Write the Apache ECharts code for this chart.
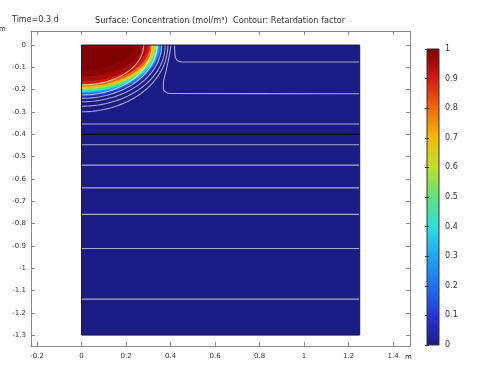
<!DOCTYPE html>
<html><head><meta charset="utf-8">
<script src="https://cdn.jsdelivr.net/npm/echarts@6/dist/echarts.min.js"></script>
<style>html,body{margin:0;padding:0;background:#fff}#c{width:481px;height:367px}</style>
</head><body><div id="c"></div>
<script>
// ---- data ----
const xTicks = [-0.2, 0, 0.2, 0.4, 0.6, 0.8, 1, 1.2, 1.4];
const yTicks = [0, -0.1, -0.2, -0.3, -0.4, -0.5, -0.6, -0.7, -0.8, -0.9, -1, -1.1, -1.2, -1.3];
const colorbarTicks = [0, 0.1, 0.2, 0.3, 0.4, 0.5, 0.6, 0.7, 0.8, 0.9, 1];
const domainWidth = 1.25;
const domainBottom = -1.3;
const layerBoundary = -0.4;
const backgroundConc = 0;
// concentration iso-levels of the source plume (value, half-width along top, depth along left edge)
const concLevels = [0.02, 0.1, 0.2, 0.3, 0.4, 0.5, 0.6, 0.7, 0.8, 0.9, 0.95, 0.98, 0.995];
const concRx     = [0.372, 0.364, 0.357, 0.351, 0.345, 0.339, 0.333, 0.327, 0.319, 0.308, 0.294, 0.27, 0.235];
const concRy     = [0.242, 0.232, 0.223, 0.216, 0.210, 0.204, 0.198, 0.192, 0.185, 0.175, 0.162, 0.142, 0.112];
// retardation-factor contours
const arcRx = [0.279, 0.317, 0.339, 0.360, 0.376, 0.388];
const arcRy = [0.179, 0.224, 0.239, 0.254, 0.274, 0.299];
const flatContourY = [-0.354, -0.447, -0.538, -0.640, -0.759, -0.912, -1.139];
const bendContourA = [[0.418, 0], [0.419, -0.03], [0.422, -0.055], [0.432, -0.07], [0.455, -0.076], [1.25, -0.076]];
const bendContourB = [[0.402, 0], [0.392, -0.06], [0.379, -0.12], [0.368, -0.17], [0.368, -0.198], [0.38, -0.212], [0.40, -0.217], [1.25, -0.218]];
const rainbow = ['#1b1b85', '#2636d6', '#2070ee', '#1fa6f2', '#2fdede', '#62e07e', '#bfe02e', '#f0bc06', '#f0680c', '#d41a12', '#7a0000'];

const xMin = -0.227, xMax = 1.476, yMin = -1.349, yMax = 0.063;
const lineCol = 'rgba(255,255,255,0.62)';
const axisCol = '#8a8a8a';
const cbar = {x: 427, y: 49, w: 12, h: 296};

function quarterEllipse(api, rx, ry) {
  const pts = [];
  const n = 48;
  for (let k = 0; k <= n; k++) {
    const t = k / n * Math.PI / 2;
    pts.push(api.coord([rx * Math.cos(t), -ry * Math.sin(t)]));
  }
  return pts;
}

const chart = echarts.init(document.getElementById('c'), null, {renderer: 'canvas'});
const frameAxisCommon = {
  type: 'value', gridIndex: 0,
  axisLine: {show: true, onZero: false, lineStyle: {color: axisCol, width: 1}},
  splitLine: {show: false}
};
chart.setOption({
  animation: false,
  textStyle: {fontFamily: 'DejaVu Sans'},
  grid: [
    {left: 31, top: 31, width: 379, height: 315},
    {left: cbar.x, top: cbar.y, width: cbar.w, height: cbar.h}
  ],
  xAxis: [
    Object.assign({}, frameAxisCommon, {position: 'bottom', min: xMin, max: xMax,
      axisTick: {show: true, inside: true, length: 4, customValues: xTicks, lineStyle: {color: axisCol}},
      axisLabel: {show: true, customValues: xTicks, formatter: v => String(v), fontSize: 7, color: '#333', margin: 7}}),
    Object.assign({}, frameAxisCommon, {position: 'top', min: xMin, max: xMax,
      axisTick: {show: true, inside: true, length: 4, customValues: xTicks, lineStyle: {color: axisCol}},
      axisLabel: {show: false}}),
    {type: 'value', gridIndex: 1, show: false, min: 0, max: 1}
  ],
  yAxis: [
    Object.assign({}, frameAxisCommon, {position: 'left', min: yMin, max: yMax,
      axisTick: {show: true, inside: true, length: 4, customValues: yTicks, lineStyle: {color: axisCol}},
      axisLabel: {show: true, customValues: yTicks, formatter: v => String(v), fontSize: 7, color: '#333', margin: 5}}),
    Object.assign({}, frameAxisCommon, {position: 'right', min: yMin, max: yMax,
      axisTick: {show: true, inside: true, length: 4, customValues: yTicks, lineStyle: {color: axisCol}},
      axisLabel: {show: false}}),
    {type: 'value', gridIndex: 1, position: 'right', min: 0, max: 1, z: 10,
      axisLine: {show: false}, splitLine: {show: false},
      axisTick: {show: true, inside: true, length: 2, customValues: colorbarTicks, lineStyle: {color: '#333'}},
      axisLabel: {show: true, customValues: colorbarTicks, formatter: v => String(v), fontSize: 8, color: '#333', margin: 6}},
    {type: 'value', gridIndex: 1, position: 'left', min: 0, max: 1, z: 10,
      axisLine: {show: false}, splitLine: {show: false},
      axisTick: {show: true, inside: true, length: 2, customValues: colorbarTicks, lineStyle: {color: '#333'}},
      axisLabel: {show: false}}
  ],
  visualMap: {
    type: 'continuous', show: false, min: 0, max: 1, seriesIndex: [0, 1], dimension: 0,
    inRange: {color: rainbow}
  },
  series: [
    { // domain background concentration
      type: 'custom', xAxisIndex: 0, yAxisIndex: 0, silent: true,
      data: [[backgroundConc, domainWidth, domainBottom]],
      renderItem: (p, api) => {
        const a = api.coord([0, 0]);
        const b = api.coord([api.value(1), api.value(2)]);
        return {type: 'rect', shape: {x: a[0], y: a[1], width: b[0] - a[0], height: b[1] - a[1]},
          style: {fill: api.visual('color')}};
      }
    },
    { // plume concentration bands
      type: 'custom', xAxisIndex: 0, yAxisIndex: 0, silent: true,
      data: concLevels.map((c, i) => [c, concRx[i], concRy[i]]),
      renderItem: (p, api) => {
        const pts = [api.coord([0, 0])].concat(quarterEllipse(api, api.value(1), api.value(2)));
        return {type: 'polygon', shape: {points: pts}, style: {fill: api.visual('color')}};
      }
    },
    { // arc contours of retardation factor
      type: 'custom', xAxisIndex: 0, yAxisIndex: 0, silent: true,
      data: arcRx.map((r, i) => [r, arcRy[i]]),
      renderItem: (p, api) => ({type: 'polyline', shape: {points: quarterEllipse(api, api.value(0), api.value(1))},
        style: {fill: null, stroke: lineCol, lineWidth: 1.1}})
    },
    { // flat contours
      type: 'custom', xAxisIndex: 0, yAxisIndex: 0, silent: true,
      data: flatContourY.map(y => [y]),
      renderItem: (p, api) => {
        const a = api.coord([0, api.value(0)]);
        const b = api.coord([domainWidth, api.value(0)]);
        return {type: 'line', shape: {x1: a[0], y1: a[1], x2: b[0], y2: b[1]},
          style: {stroke: lineCol, lineWidth: 1.1}};
      }
    },
    {type: 'line', xAxisIndex: 0, yAxisIndex: 0, data: bendContourA, smooth: 0.3, showSymbol: false, silent: true,
      lineStyle: {color: lineCol, width: 1.1}},
    {type: 'line', xAxisIndex: 0, yAxisIndex: 0, data: bendContourB, smooth: 0.3, showSymbol: false, silent: true,
      lineStyle: {color: lineCol, width: 1.1}},
    { // domain outline and layer boundary
      type: 'custom', xAxisIndex: 0, yAxisIndex: 0, silent: true, z: 5,
      data: [[layerBoundary]],
      renderItem: (p, api) => {
        const a = api.coord([0, 0]);
        const b = api.coord([domainWidth, domainBottom]);
        const l1 = api.coord([0, api.value(0)]);
        const l2 = api.coord([domainWidth, api.value(0)]);
        return {type: 'group', children: [
          {type: 'rect', shape: {x: a[0], y: a[1], width: b[0] - a[0], height: b[1] - a[1]},
            style: {fill: null, stroke: '#1a1a2a', lineWidth: 1}},
          {type: 'line', shape: {x1: l1[0], y1: l1[1], x2: l2[0], y2: l2[1]},
            style: {stroke: '#0a0a18', lineWidth: 1.2}}
        ]};
      }
    }
  ],
  graphic: [
    {type: 'text', left: 12, top: 16, style: {text: 'Time=0.3 d', font: '8px "DejaVu Sans"', fill: '#333'}},
    {type: 'text', left: 95, top: 17, style: {text: 'Surface: Concentration (mol/m³)  Contour: Retardation factor', font: '8.2px "DejaVu Sans"', fill: '#333'}},
    {type: 'text', left: -1, top: 26, style: {text: 'm', font: '7px "DejaVu Sans"', fill: '#333'}},
    {type: 'text', left: 405, top: 354, style: {text: 'm', font: '7px "DejaVu Sans"', fill: '#333'}},
    {type: 'rect', z: 1, shape: {x: cbar.x, y: cbar.y, width: cbar.w, height: cbar.h},
      style: {fill: new echarts.graphic.LinearGradient(0, 1, 0, 0,
        rainbow.map((c, i) => ({offset: i / (rainbow.length - 1), color: c}))), stroke: '#333', lineWidth: 1}}
  ]
});
</script></body></html>
